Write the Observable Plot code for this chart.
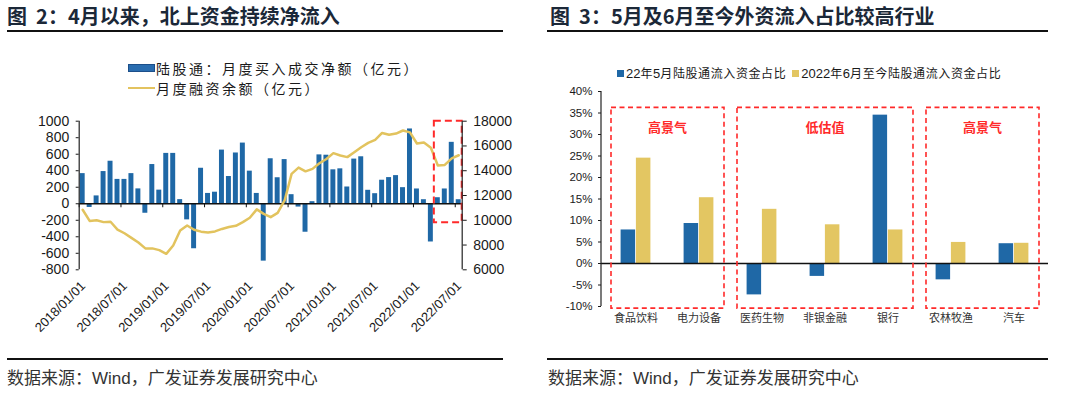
<!DOCTYPE html>
<html><head><meta charset="utf-8">
<script src="https://cdn.jsdelivr.net/npm/d3@7"></script>
<script src="https://cdn.jsdelivr.net/npm/@observablehq/plot@0.6"></script>
<style>
body{margin:0;width:1080px;height:397px;background:#fff;position:relative;overflow:hidden;font-family:"Noto Sans CJK SC","Liberation Sans",sans-serif;color:#1a1a1a;}
.title{position:absolute;top:3px;font-size:20px;font-weight:700;color:#1b2838;white-space:pre;line-height:26px;}
.hr{position:absolute;background:#111;}
.src{position:absolute;top:365px;font-size:17px;color:#333;white-space:pre;line-height:24px;}
.src .w{font-family:"Liberation Sans",Arial,sans-serif;}
.lg1{position:absolute;left:128px;top:58px;font-size:14px;letter-spacing:2.5px;color:#1a1a1a;}
.lg1 .row{height:20px;line-height:20px;display:flex;align-items:center;white-space:nowrap;}
.sw-bar{display:inline-block;width:25px;height:6px;background:#2a6db0;border:1px solid #1c4f8a;margin-right:1px;}
.sw-line{display:inline-block;width:27px;height:2px;background:#e3c35f;margin-right:1px;}
.lg2{position:absolute;left:617px;top:63px;font-size:12px;letter-spacing:0.6px;display:flex;align-items:center;white-space:nowrap;line-height:20px;color:#1a1a1a;}
.lg2 .sq{display:inline-block;width:7px;height:7px;margin-right:2px;}
.lg2 .num{font-family:"Liberation Sans",Arial,sans-serif;font-size:13px;letter-spacing:0;}
#c1{position:absolute;left:0;top:100px;}
#c2{position:absolute;left:540px;top:80px;}
</style></head><body>
<div class="title" style="left:7px">图  2：4月以来，北上资金持续净流入</div>
<div class="hr" style="left:7px;top:30px;width:496px;height:2px"></div>
<div class="title" style="left:550px">图  3：5月及6月至今外资流入占比较高行业</div>
<div class="hr" style="left:547px;top:30px;width:501px;height:2px"></div>

<div class="lg1" id="lg1"></div>
<div class="lg2" id="lg2"></div>
<div id="c1"></div>
<div id="c2"></div>

<div class="hr" style="left:7px;top:358px;width:496px;height:1.5px"></div>
<div class="hr" style="left:547px;top:358px;width:501px;height:1.5px"></div>
<div class="src" style="left:7px">数据来源：<span class="w">Wind</span>，广发证券发展研究中心</div>
<div class="src" style="left:548px">数据来源：<span class="w">Wind</span>，广发证券发展研究中心</div>

<script>
// ---------- Chart 1 data (monthly, 2018/01 .. 2022/07) ----------
const seriesNames1 = ["陆股通：月度买入成交净额（亿元）", "月度融资余额（亿元）"];
const netBuy2018 = [365, -45, 95, 390, 515, 295, 295, 365, 180, -115, 475, 165];
const netBuy2019 = [610, 610, 50, -195, -545, 430, 125, 140, 650, 330, 615, 735];
const netBuy2020 = [395, 125, -695, 545, 315, 535, 110, -40, -345, 25, 592, 588];
const netBuy2021 = [411, 423, 203, 541, 569, 163, 122, 285, 317, 341, 195, 906];
const netBuy2022 = [179, 49, -463, 73, 179, 744, 49];
const margin2018 = [10850, 9950, 10000, 9850, 9880, 9250, 8950, 8580, 8200, 7730, 7730, 7590];
const margin2019 = [7290, 7960, 9170, 9580, 9230, 9080, 9020, 9100, 9300, 9450, 9550, 9850];
const margin2020 = [10200, 10880, 10520, 10250, 10600, 11600, 13750, 14250, 13950, 14150, 14600, 14950];
const margin2021 = [15420, 15230, 15100, 15500, 15900, 16250, 16490, 17050, 16900, 17000, 17250, 17100];
const margin2022 = [16200, 16280, 15850, 14420, 14470, 15000, 15250];
const xTickLabels = ["2018/01/01","2018/07/01","2019/01/01","2019/07/01","2020/01/01","2020/07/01","2021/01/01","2021/07/01","2022/01/01","2022/07/01"];
const leftTicks = [-800, -600, -400, -200, 0, 200, 400, 600, 800, 1000];
const rightTicks = [6000, 8000, 10000, 12000, 14000, 16000, 18000];
const highlight1 = {fromMonth: 51, toMonth: 55, low: 9800, high: 18000}; // 2022/04 .. 2022/07

// ---------- Chart 2 data ----------
const seriesNames2 = ["22年5月陆股通流入资金占比", "2022年6月至今陆股通流入资金占比"];
const industries = ["食品饮料", "电力设备", "医药生物", "非银金融", "银行", "农林牧渔", "汽车"];
const may22 = [7.8, 9.3, -7.3, -3.0, 34.5, -3.8, 4.6];
const sinceJun22 = [24.5, 15.3, 12.6, 9.0, 7.8, 4.9, 4.7];
const pctTicks = [-10, -5, 0, 5, 10, 15, 20, 25, 30, 35, 40];
const groups = [
  {label: "高景气", from: "食品饮料", to: "电力设备"},
  {label: "低估值", from: "医药生物", to: "银行"},
  {label: "高景气", from: "农林牧渔", to: "汽车"}
];
const groupRange = [-10.5, 36.2];

const BLUE = "#1f68a6", YELLOW = "#e3c662", LINE = "#e2c35e", RED = "#ff2a2a";

// ---------- legends ----------
document.getElementById("lg1").innerHTML =
  `<div class="row"><span class="sw-bar"></span><span>${seriesNames1[0]}</span></div>` +
  `<div class="row"><span class="sw-line"></span><span>${seriesNames1[1]}</span></div>`;
const numWrap = s => s.replace(/(\d+)/g, '<span class="num">$1</span>');
document.getElementById("lg2").innerHTML =
  `<span class="sq" style="background:${BLUE}"></span><span>${numWrap(seriesNames2[0])}</span>` +
  `<span class="sq" style="background:${YELLOW};margin-left:6px"></span><span>${numWrap(seriesNames2[1])}</span>`;

// ---------- chart 1 ----------
const netBuy = [...netBuy2018, ...netBuy2019, ...netBuy2020, ...netBuy2021, ...netBuy2022];
const marginBal = [...margin2018, ...margin2019, ...margin2020, ...margin2021, ...margin2022];
const idx = d3.range(netBuy.length);
const R0 = rightTicks[0], R1 = rightTicks[rightTicks.length - 1];
const L0 = leftTicks[0], L1 = leftTicks[leftTicks.length - 1];
const toLeft = v => (v - R0) * (L1 - L0) / (R1 - R0) + L0;
const fromLeft = v => String(Math.round((v - L0) * (R1 - R0) / (L1 - L0) + R0));
const tickIdx = xTickLabels.map((_, k) => k * 6);

const chart1 = Plot.plot({
  width: 540, height: 250,
  marginLeft: 78.7, marginRight: 78.3, marginTop: 20.7, marginBottom: 80.7,
  x: {domain: [0, netBuy.length], axis: null},
  y: {domain: [L0, L1], axis: null},
  style: {fontFamily: "'Liberation Sans', Arial, sans-serif", fontSize: "14px", color: "#1a1a1a", background: "none"},
  marks: [
    Plot.rectY(idx, {x1: i => i, x2: i => i + 1, y: i => netBuy[i], fill: BLUE, insetLeft: 1, insetRight: 1}),
    Plot.ruleY([0], {stroke: "#111", strokeWidth: 1.5}),
    Plot.ruleX(tickIdx, {x: d => d, y1: 0, y2: 0, insetBottom: -4, stroke: "#111"}),
    Plot.lineY(idx, {x: i => i + 0.5, y: i => toLeft(marginBal[i]), stroke: LINE, strokeWidth: 2.5}),
    Plot.rect([highlight1], {x1: "fromMonth", x2: "toMonth", y1: d => toLeft(d.low), y2: d => toLeft(d.high),
      fill: "none", stroke: RED, strokeWidth: 2, strokeDasharray: "7,4"}),
    Plot.ruleX([0, netBuy.length], {stroke: "#222", strokeWidth: 1.2}),
    Plot.axisY({anchor: "left", ticks: leftTicks, tickFormat: d => String(d), tickSize: 3, tickPadding: 7, fontSize: 14, label: null}),
    Plot.axisY({anchor: "right", ticks: rightTicks.map(toLeft), tickFormat: fromLeft, tickSize: 4, tickPadding: 7, fontSize: 14, label: null}),
    Plot.axisX({anchor: "bottom", ticks: tickIdx, tickFormat: i => xTickLabels[i / 6], tickRotate: -45, tickSize: 0, tickPadding: 14, dx: 4, fontSize: 13, label: null})
  ]
});
document.getElementById("c1").append(chart1);

// ---------- chart 2 ----------
const rows2 = industries.map((name, i) => ({name, a: may22[i], b: sinceJun22[i]}));
function groupBoxes(index, scales, values, dimensions) {
  const sx = scales.x, sy = scales.y;
  const bw = typeof sx.bandwidth === "function" ? sx.bandwidth() : sx.bandwidth;
  const g = d3.create("svg:g");
  g.append("line").attr("x1", dimensions.marginLeft).attr("x2", dimensions.marginLeft)
    .attr("y1", sy(pctTicks[pctTicks.length - 1])).attr("y2", sy(pctTicks[0])).attr("stroke", "#222").attr("stroke-width", 1.2);
  for (const b of groups) {
    const x1 = sx(b.from) + 7, x2 = sx(b.to) + bw - 6;
    const yTop = sy(groupRange[1]), yBot = sy(groupRange[0]);
    g.append("rect").attr("x", x1).attr("y", yTop).attr("width", x2 - x1).attr("height", yBot - yTop)
      .attr("fill", "none").attr("stroke", RED).attr("stroke-width", 1.6).attr("stroke-dasharray", "5,3.5");
    g.append("text").attr("x", (x1 + x2) / 2).attr("y", yTop + 20).attr("dy", "0.35em")
      .attr("text-anchor", "middle").attr("fill", RED).attr("font-size", 13).attr("font-weight", 700)
      .attr("font-family", "'Noto Sans CJK SC', sans-serif").text(b.label);
  }
  return g.node();
}
const chart2 = Plot.plot({
  width: 540, height: 250,
  marginLeft: 61, marginRight: 32, marginTop: 11, marginBottom: 24,
  x: {domain: industries, padding: 0, axis: null},
  y: {domain: [pctTicks[0], pctTicks[pctTicks.length - 1]], axis: null},
  style: {fontFamily: "'Liberation Sans', Arial, sans-serif", fontSize: "11px", color: "#1a1a1a", background: "none"},
  marks: [
    Plot.barY(rows2, {x: "name", y: "a", fill: BLUE, insetLeft: 16.6, insetRight: 31.9}),
    Plot.barY(rows2, {x: "name", y: "b", fill: YELLOW, insetLeft: 31.9, insetRight: 16.6}),
    Plot.ruleY([0], {stroke: "#111", strokeWidth: 1.3}),
    groupBoxes,
    Plot.axisY({anchor: "left", ticks: pctTicks, tickFormat: d => d + "%", tickSize: 3, tickPadding: 6, fontSize: 11.5, label: null}),
    Plot.axisX({anchor: "bottom", tickSize: 0, tickPadding: 8, fontSize: 11, fontFamily: "'Noto Sans CJK SC', sans-serif", fill: "#333", label: null})
  ]
});
document.getElementById("c2").append(chart2);
</script>
</body></html>
